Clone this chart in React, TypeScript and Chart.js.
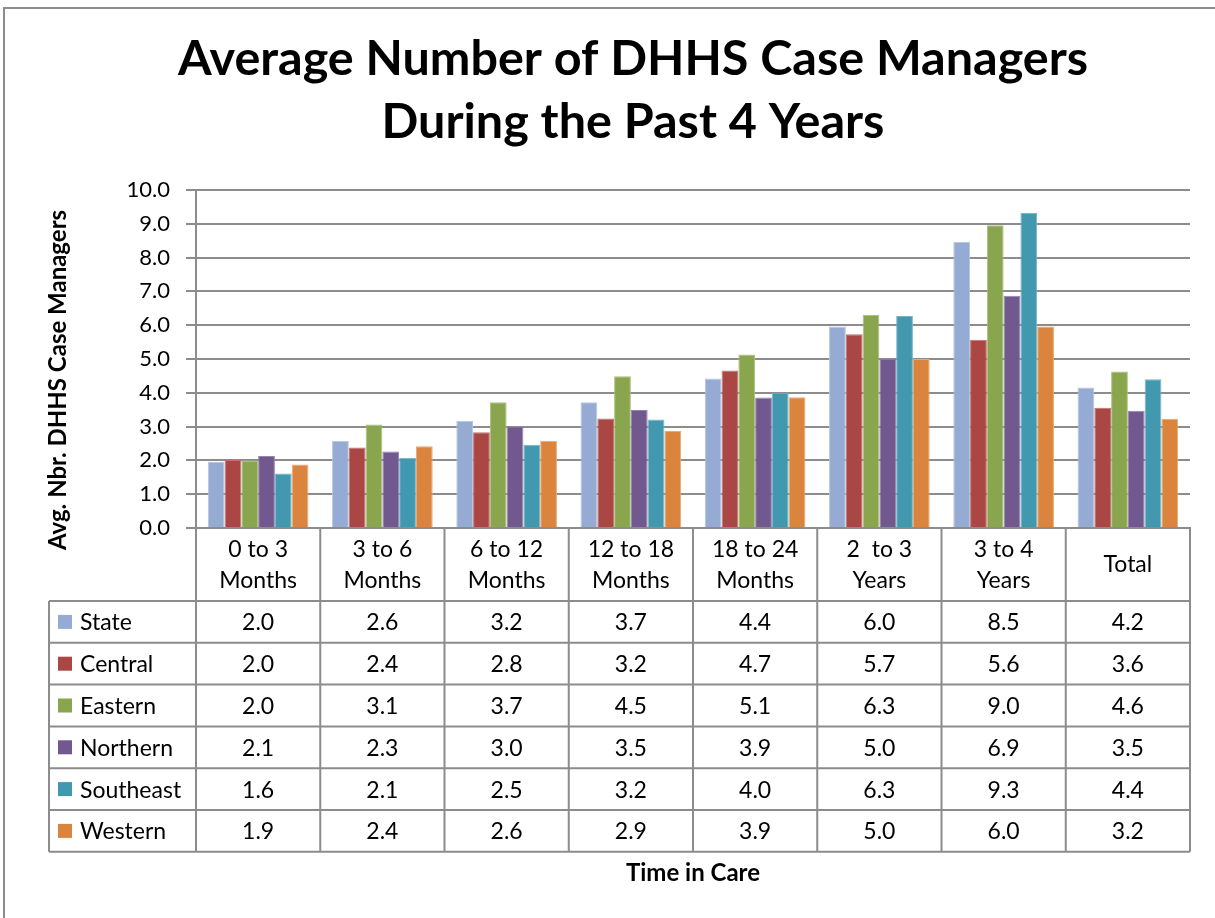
import { useEffect, useRef } from "react";
import { Chart, registerables } from "chart.js";

Chart.register(...registerables);

const categories: string[][] = [
  ["0 to 3", "Months"],
  ["3 to 6", "Months"],
  ["6 to 12", "Months"],
  ["12 to 18", "Months"],
  ["18 to 24", "Months"],
  ["2  to 3", "Years"],
  ["3 to 4", "Years"],
  ["Total"],
];

const seriesNames = ["State", "Central", "Eastern", "Northern", "Southeast", "Western"];
const seriesColors = ["#95ABD4", "#AA4643", "#89A54E", "#71588F", "#4198AF", "#DB843D"];
const seriesEdges = ["#B4C4E2", "#C0716E", "#A9C07A", "#9582AE", "#74B5C7", "#E9A874"];

const stateValues = [1.96, 2.58, 3.17, 3.72, 4.42, 5.96, 8.47, 4.16];
const centralValues = [2.01, 2.38, 2.83, 3.24, 4.66, 5.73, 5.57, 3.56];
const easternValues = [2.0, 3.06, 3.72, 4.49, 5.13, 6.31, 8.96, 4.63];
const northernValues = [2.13, 2.26, 3.0, 3.49, 3.86, 5.01, 6.87, 3.47];
const southeastValues = [1.61, 2.08, 2.46, 3.21, 4.0, 6.27, 9.33, 4.4];
const westernValues = [1.88, 2.42, 2.58, 2.87, 3.87, 5.0, 5.96, 3.23];

const yTickValues = [0, 1, 2, 3, 4, 5, 6, 7, 8, 9, 10];

const titleLines = ["Average Number of DHHS Case Managers", "During the Past 4 Years"];
const yTitle = "Avg. Nbr. DHHS Case Managers";
const xTitle = "Time in Care";

const FONT = "Lato, 'Open Sans', sans-serif";
const LINE = "#8c8c8c";

const allSeries = [stateValues, centralValues, easternValues, northernValues, southeastValues, westernValues];

const decorPlugin = {
  id: "decor",
  afterDraw(chart: any) {
    const ctx = chart.ctx as CanvasRenderingContext2D;
    const area = chart.chartArea;
    const xs = chart.scales.x;
    ctx.save();

    // outer border (top and left)
    ctx.strokeStyle = LINE;
    ctx.lineWidth = 2;
    ctx.beginPath();
    ctx.moveTo(4, 918);
    ctx.lineTo(4, 8);
    ctx.lineTo(1215, 8);
    ctx.stroke();

    // title
    ctx.fillStyle = "#000";
    ctx.font = `bold 48.5px ${FONT}`;
    ctx.textAlign = "center";
    ctx.textBaseline = "alphabetic";
    ctx.fillText(titleLines[0], 633, 75);
    ctx.fillText(titleLines[1], 633, 138);

    // y title
    ctx.save();
    ctx.translate(58, 380);
    ctx.rotate(-Math.PI / 2);
    ctx.font = `bold 24px ${FONT}`;
    ctx.textBaseline = "middle";
    ctx.fillText(yTitle, 0, 0);
    ctx.restore();

    // table
    const n = categories.length;
    const colW = (area.right - area.left) / n;
    const headerTop = area.bottom;
    const headerBottom = 601;
    const rowH = 41.8;
    const tableBottom = headerBottom + rowH * seriesNames.length;
    const tableLeft = 49;

    ctx.strokeStyle = LINE;
    ctx.lineWidth = 2;
    ctx.beginPath();
    for (let i = 0; i <= n; i++) {
      const x = i === n ? area.right : xs.getPixelForValue(i) - colW / 2;
      ctx.moveTo(x, headerTop);
      ctx.lineTo(x, tableBottom);
    }
    ctx.moveTo(tableLeft, headerBottom);
    ctx.lineTo(tableLeft, tableBottom);
    for (let r = 0; r <= seriesNames.length; r++) {
      const y = headerBottom + r * rowH;
      ctx.moveTo(tableLeft, y);
      ctx.lineTo(area.right, y);
    }
    ctx.stroke();

    ctx.fillStyle = "#000";
    ctx.font = `23px ${FONT}`;
    ctx.textAlign = "center";
    ctx.textBaseline = "middle";
    for (let i = 0; i < n; i++) {
      const cx = xs.getPixelForValue(i);
      const lines = categories[i];
      const mid = (headerTop + headerBottom) / 2;
      if (lines.length === 1) {
        ctx.fillText(lines[0], cx, mid);
      } else {
        ctx.fillText(lines[0], cx, mid - 15);
        ctx.fillText(lines[1], cx, mid + 16);
      }
    }

    for (let r = 0; r < seriesNames.length; r++) {
      const cy = headerBottom + r * rowH + rowH / 2;
      ctx.fillStyle = seriesColors[r];
      ctx.fillRect(58, cy - 7, 14, 14);
      ctx.fillStyle = "#000";
      ctx.textAlign = "left";
      ctx.fillText(seriesNames[r], 80, cy + 1);
      ctx.textAlign = "center";
      const vals = allSeries[r];
      for (let i = 0; i < n; i++) {
        ctx.fillText(vals[i].toFixed(1), xs.getPixelForValue(i), cy + 1);
      }
    }

    // x title
    ctx.font = `bold 24px ${FONT}`;
    ctx.textAlign = "center";
    ctx.textBaseline = "middle";
    ctx.fillText(xTitle, (area.left + area.right) / 2, 873);

    ctx.restore();
  },
};

export default function App() {
  const ref = useRef<HTMLCanvasElement>(null);

  useEffect(() => {
    document.body.style.margin = "0";
    const canvas = ref.current!;
    const chart = new Chart(canvas, {
      type: "bar",
      data: {
        labels: categories.map((c) => c.join(" ")),
        datasets: seriesNames.map((name, i) => ({
          label: name,
          data: allSeries[i],
          backgroundColor: seriesColors[i],
          borderColor: seriesEdges[i],
          borderWidth: 1,
          categoryPercentage: 0.81,
          barPercentage: 1.0,
        })),
      },
      options: {
        animation: false,
        responsive: false,
        maintainAspectRatio: false,
        layout: { padding: { left: 0, right: 25, top: 190, bottom: 390 } },
        plugins: {
          legend: { display: false },
          title: { display: false },
          tooltip: { enabled: false },
        },
        scales: {
          x: {
            grid: { display: false, drawTicks: false },
            ticks: { display: false },
            border: { display: true, color: LINE, width: 2 },
            afterFit: (s: any) => {
              s.height = 0;
            },
          },
          y: {
            min: 0,
            max: 10,
            afterBuildTicks: (s: any) => {
              s.ticks = yTickValues.map((v) => ({ value: v }));
            },
            ticks: {
              padding: 16,
              color: "#000",
              font: { family: FONT, size: 22 },
              callback: (v: any) => Number(v).toFixed(1),
            },
            grid: { color: LINE, lineWidth: 2, tickLength: 10, drawTicks: true },
            border: { display: true, color: LINE, width: 2 },
            afterFit: (s: any) => {
              s.width = 196;
            },
          },
        },
      },
      plugins: [decorPlugin],
    });
    return () => chart.destroy();
  }, []);

  return <canvas ref={ref} width={1215} height={918} style={{ display: "block" }} />;
}
